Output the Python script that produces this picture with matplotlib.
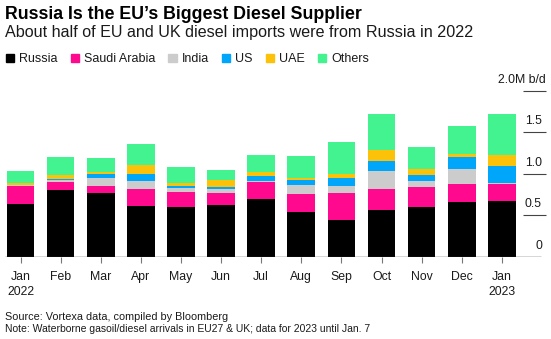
import numpy as np
import matplotlib.pyplot as plt
from matplotlib.patches import Rectangle

plt.rcParams['font.family'] = ['Liberation Sans', 'DejaVu Sans']

# dati (milioni di barili al giorno)
mesi = ["Jan\n2022", "Feb", "Mar", "Apr", "May", "Jun", "Jul", "Aug",
        "Sep", "Oct", "Nov", "Dec", "Jan\n2023"]
paesi = ["Russia", "Saudi Arabia", "India", "US", "UAE", "Others"]
colori = ["#000000", "#ff0a8f", "#cccccc", "#00a6f9", "#fcc20a", "#43f38f"]

russia = [0.635, 0.804, 0.763, 0.611, 0.600, 0.623, 0.690, 0.542, 0.446, 0.559, 0.600, 0.663, 0.675]
saudi = [0.220, 0.092, 0.089, 0.199, 0.176, 0.140, 0.214, 0.213, 0.321, 0.261, 0.243, 0.209, 0.205]
india = [0.005, 0.034, 0.092, 0.106, 0.054, 0.047, 0.008, 0.109, 0.085, 0.216, 0.065, 0.188, 0.005]
usa = [0.003, 0.010, 0.052, 0.084, 0.020, 0.026, 0.060, 0.064, 0.100, 0.121, 0.072, 0.137, 0.204]
uae = [0.020, 0.044, 0.021, 0.100, 0.035, 0.088, 0.048, 0.026, 0.040, 0.129, 0.072, 0.036, 0.140]
altri = [0.153, 0.213, 0.173, 0.260, 0.196, 0.124, 0.205, 0.256, 0.394, 0.429, 0.266, 0.345, 0.494]

serie = [russia, saudi, india, usa, uae, altri]
yticks = [0, 0.5, 1.0, 1.5]

fig = plt.figure(figsize=(5.51, 3.39), dpi=100)
ax = fig.add_axes([5 / 551, 0.2428, 541 / 551, 0.4896])

x = np.arange(len(mesi))
base = np.zeros(len(mesi))
for vals, col, nome in zip(serie, colori, paesi):
    ax.bar(x, vals, bottom=base, width=0.69, color=col, label=nome, zorder=2)
    base += np.array(vals)

ax.set_xlim(-0.387, 13.1)
ax.set_ylim(0, 2.0)
for s in ax.spines.values():
    s.set_visible(False)
ax.set_yticks([])
ax.set_xticks(x)
ax.set_xticklabels(mesi, fontsize=8.8, color="#1a1a1a", linespacing=1.4)
ax.tick_params(axis="x", length=4.5, width=0.8, color="#777777", pad=5.5)

# linea di base e griglia a destra
ax.hlines(0, -0.387, 12.97, color="#333333", lw=1.0, zorder=3)
ax.hlines([0.5, 1.0, 1.5, 2.0], 12.52, 13.1, color="#444444", lw=0.8, clip_on=False)
for v in yticks:
    ax.text(13.0, v + 0.06, "%g" % v if v == 0 else "%.1f" % v, ha="right", va="bottom",
            fontsize=8.8, color="#1a1a1a")
ax.text(13.1, 2.06, "2.0M b/d", ha="right", va="bottom", fontsize=8.8,
        color="#1a1a1a", clip_on=False)

# titoli
fig.text(5 / 551, 1 - 19 / 339, "Russia Is the EU\u2019s Biggest Diesel Supplier",
         fontsize=12.8, fontweight="bold", va="baseline", ha="left")
fig.text(5 / 551, 1 - 37.5 / 339, "About half of EU and UK diesel imports were from Russia in 2022",
         fontsize=11.6, va="baseline", ha="left", color="#1a1a1a")

# legenda manuale
fig.canvas.draw()
r = fig.canvas.get_renderer()
xpos = 6
for nome, col in zip(paesi, colori):
    fig.patches.append(Rectangle((xpos / 551, 1 - 62 / 339), 8.3 / 551, 8.3 / 339,
                                 color=col, transform=fig.transFigure, figure=fig))
    t = fig.text((xpos + 13.3) / 551, 1 - 61.7 / 339, nome, fontsize=9.0,
                 va="baseline", ha="left", color="#1a1a1a")
    w = t.get_window_extent(r).width
    xpos = xpos + 13.3 + w + 13

fig.text(5 / 551, 1 - 320 / 339, "Source: Vortexa data, compiled by Bloomberg",
         fontsize=7.8, va="baseline", ha="left", color="#1a1a1a")
fig.text(5 / 551, 1 - 331.7 / 339,
         "Note: Waterborne gasoil/diesel arrivals in EU27 & UK; data for 2023 until Jan. 7",
         fontsize=7.5, va="baseline", ha="left", color="#1a1a1a")

fig.savefig("out.png", dpi=100)
